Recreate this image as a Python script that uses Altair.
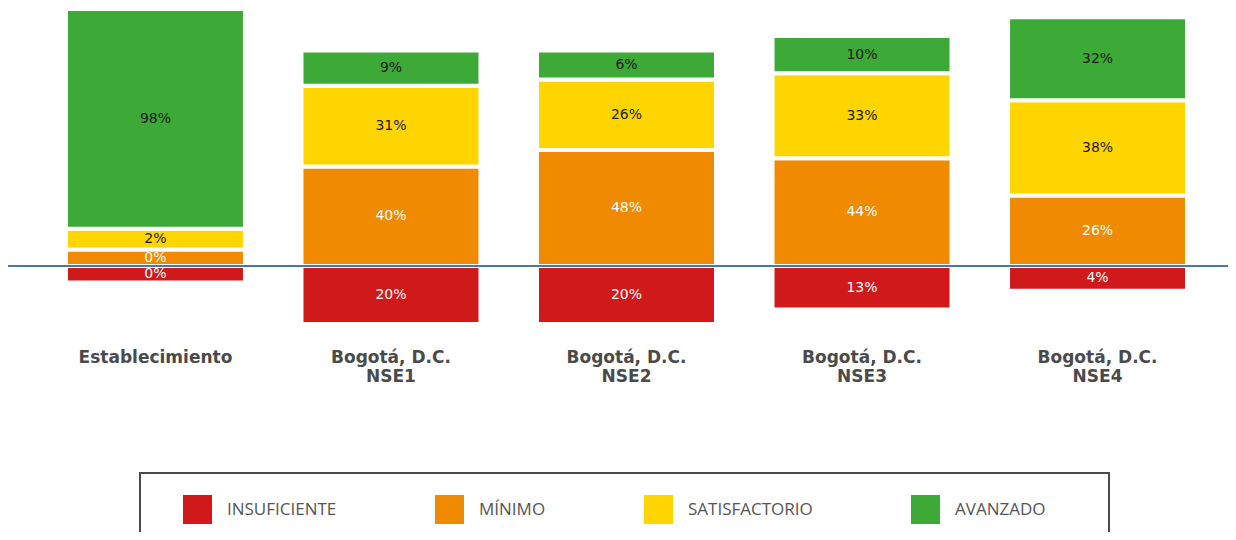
import altair as alt
import pandas as pd

categories = ["Establecimiento", "Bogotá, D.C.|NSE1", "Bogotá, D.C.|NSE2",
              "Bogotá, D.C.|NSE3", "Bogotá, D.C.|NSE4"]
levels = ["INSUFICIENTE", "MÍNIMO", "SATISFACTORIO", "AVANZADO"]
insuficiente = [0, 20, 20, 13, 4]
minimo = [0, 40, 48, 44, 26]
satisfactorio = [2, 31, 26, 33, 38]
avanzado = [98, 9, 6, 10, 32]
colors = ["#d0191b", "#f08a00", "#ffd500", "#3da936"]
text_colors = ["#ffffff", "#ffffff", "#1a1a1a", "#1a1a1a"]

series = [insuficiente, minimo, satisfactorio, avanzado]
rows = []
for i, c in enumerate(categories):
    for j, lvl in enumerate(levels):
        rows.append({"cat": c, "nivel": lvl, "orden": j,
                     "pct": series[j][i], "tc": text_colors[j]})
df = pd.DataFrame(rows)

MIN_UNITS = 8  # minimum visible block added to each segment

base = (
    alt.Chart(df)
    .transform_calculate(
        h=f"(datum.pct + {MIN_UNITS}) * (datum.orden == 0 ? -1 : 1)",
        label="datum.pct + '%'",
    )
    .transform_stack(stack="h", groupby=["cat"], as_=["y0", "y1"],
                     sort=[alt.SortField("orden", order="ascending")])
    .transform_calculate(ym="(datum.y0 + datum.y1) / 2")
)

xenc = alt.X(
    "cat:N", sort=categories,
    scale=alt.Scale(paddingInner=0.24, paddingOuter=0.21, align=0.586),
    axis=alt.Axis(title=None, labelAngle=0, domain=False, ticks=False, tickSize=0,
                  labelPadding=25, labelFontSize=17, labelFont="DejaVu Sans",
                  labelFontWeight="bold", labelColor="#4a4a4a",
                  labelExpr="split(datum.label, '|')", labelLineHeight=19),
)
yscale = alt.Scale(domain=[-28, 124], nice=False, zero=False)

bars = base.mark_bar(stroke="white", strokeWidth=4).encode(
    x=xenc,
    y=alt.Y("y0:Q", scale=yscale, axis=None),
    y2="y1:Q",
    color=alt.Color(
        "nivel:N",
        scale=alt.Scale(domain=levels, range=colors),
        legend=alt.Legend(
            title=" ", titleOrient="right", titlePadding=42,
            orient="none", legendX=132, legendY=464,
            direction="horizontal", columns=4, symbolType="square",
            symbolSize=841, symbolStrokeWidth=0, symbolOffset=21,
            labelFont="Open Sans", labelFontSize=17,
            labelColor="#555555", labelOffset=15, columnPadding=77,
            padding=22, strokeColor="#4a4a4a", symbolOpacity=1,
        ),
    ),
)

texts = base.mark_text(font="DejaVu Sans", fontSize=14, baseline="middle").encode(
    x=alt.X("cat:N", sort=categories),
    y=alt.Y("ym:Q"),
    text="label:N",
    color=alt.Color("tc:N", scale=None),
)

rule = alt.Chart(pd.DataFrame({"y": [0]})).mark_rule(
    color="#4a76a8", strokeWidth=2).encode(y="y:Q")

chart = (
    alt.layer(bars, texts, rule)
    .properties(width=1220, height=315,
                autosize=alt.AutoSizeParams(type="none"),
                padding={"left": 0, "top": 1, "right": 0, "bottom": 208})
    .configure_view(stroke=None)
    .configure_legend(strokeWidth=2)
)

chart.save("out.html", embed_options={"renderer": "svg", "actions": False})
